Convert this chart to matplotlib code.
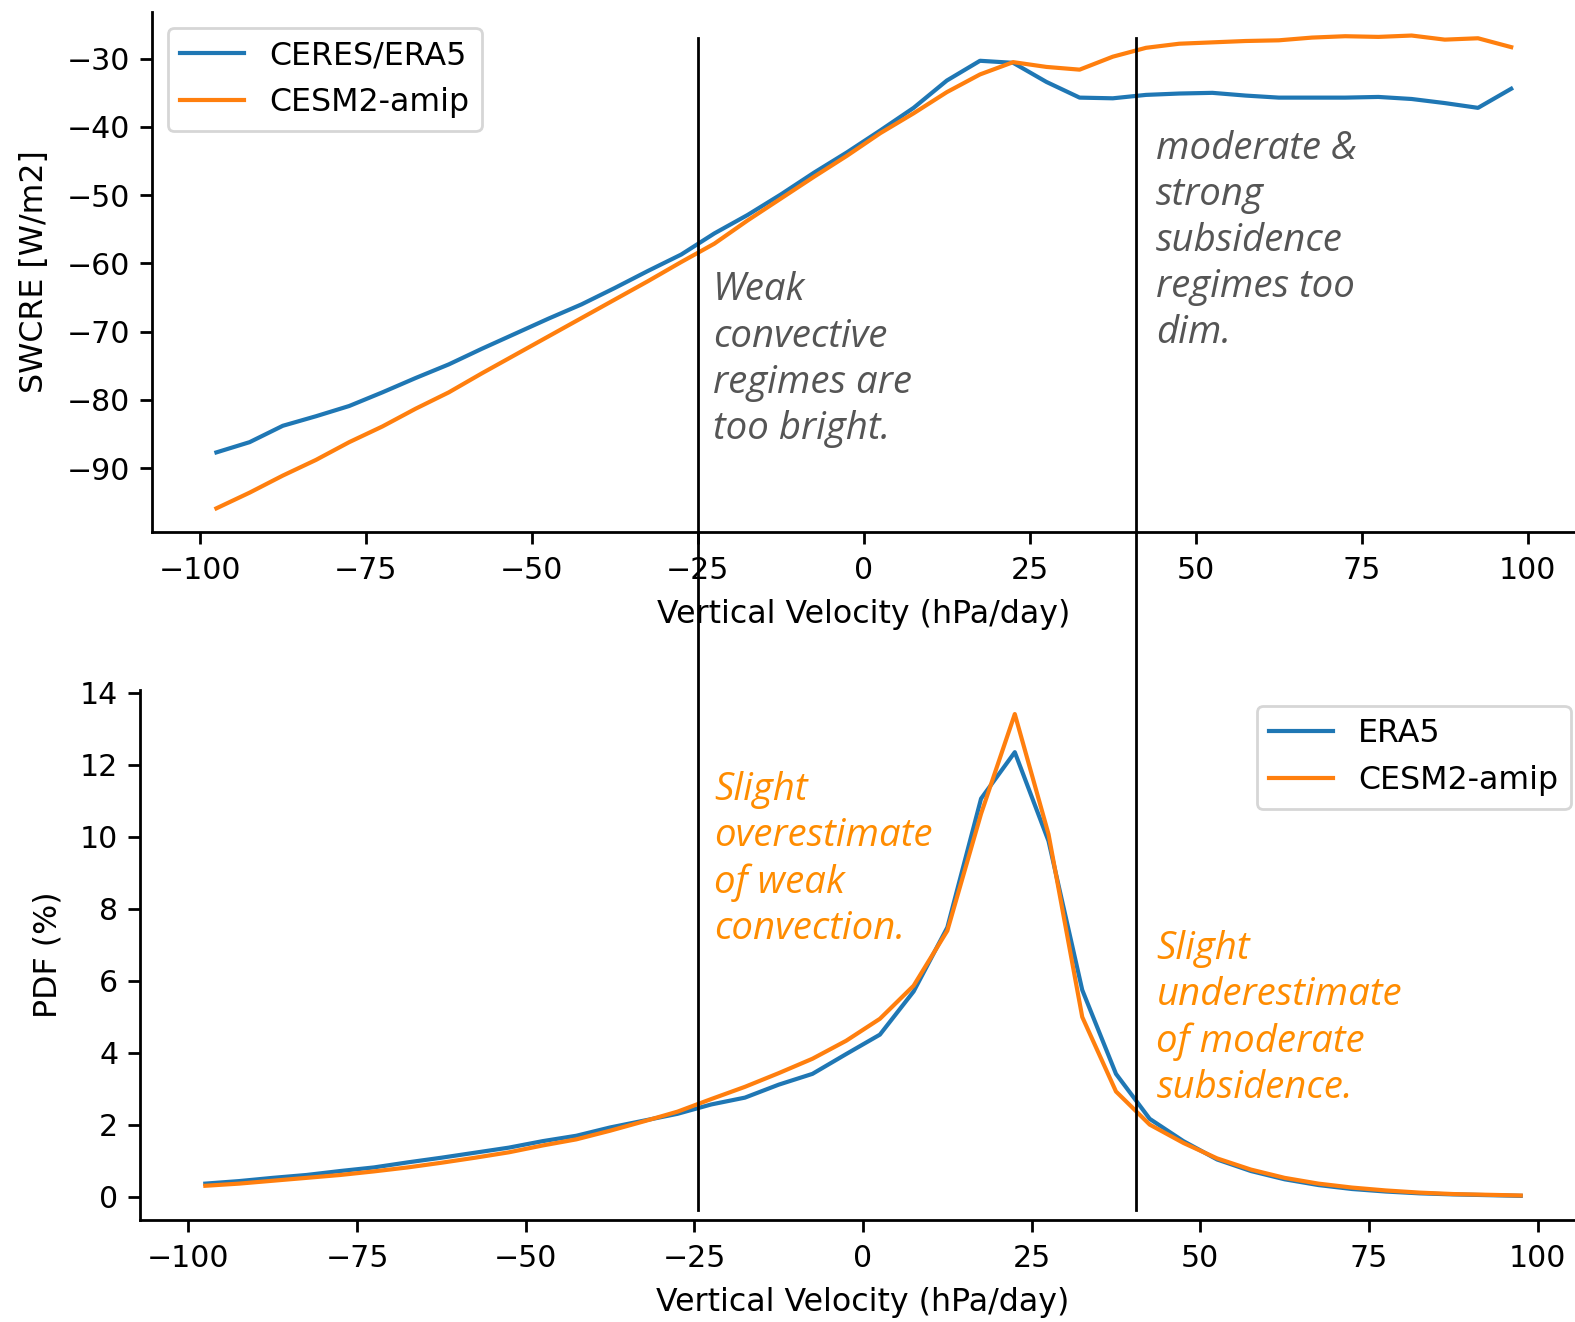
import numpy as np
import matplotlib
matplotlib.use("Agg")
import matplotlib.pyplot as plt
from matplotlib import transforms
from matplotlib.lines import Line2D

# ---------------- data ----------------
omega = np.arange(-97.5, 100, 5.0)  # vertical velocity bin centres (hPa/day)

swcre_obs = [-87.7, -86.2, -83.8, -82.4, -80.9, -78.9, -76.8, -74.8, -72.5, -70.3,
             -68.1, -66.0, -63.6, -61.1, -58.7, -55.6, -52.9, -49.9, -46.7, -43.7,
             -40.5, -37.2, -33.2, -30.3, -30.6, -33.4, -35.7, -35.8, -35.3, -35.1,
             -35.0, -35.4, -35.7, -35.7, -35.7, -35.6, -35.9, -36.5, -37.2, -34.4]
swcre_mod = [-95.9, -93.6, -91.1, -88.8, -86.2, -83.9, -81.3, -78.9, -76.1, -73.4,
             -70.7, -68.0, -65.3, -62.6, -59.8, -57.1, -53.7, -50.5, -47.3, -44.2,
             -40.9, -38.0, -34.9, -32.3, -30.5, -31.2, -31.6, -29.7, -28.4, -27.8,
             -27.6, -27.4, -27.3, -26.9, -26.7, -26.8, -26.6, -27.2, -27.0, -28.3]

pdf_obs = [0.36, 0.43, 0.52, 0.60, 0.71, 0.81, 0.95, 1.08, 1.22, 1.36,
           1.54, 1.69, 1.92, 2.11, 2.30, 2.56, 2.75, 3.11, 3.41, 3.96,
           4.50, 5.70, 7.48, 11.06, 12.35, 9.88, 5.74, 3.41, 2.16, 1.54,
           1.03, 0.71, 0.48, 0.32, 0.21, 0.14, 0.09, 0.06, 0.04, 0.02]
pdf_mod = [0.30, 0.36, 0.44, 0.52, 0.60, 0.70, 0.81, 0.94, 1.08, 1.23,
           1.42, 1.59, 1.83, 2.09, 2.36, 2.71, 3.05, 3.43, 3.83, 4.33,
           4.94, 5.86, 7.39, 10.64, 13.41, 10.07, 4.99, 2.92, 2.00, 1.49,
           1.06, 0.75, 0.52, 0.36, 0.25, 0.17, 0.11, 0.07, 0.05, 0.03]

regime_bounds = [-25, 41]

top_labels = ["CERES/ERA5", "CESM2-amip"]
bottom_labels = ["ERA5", "CESM2-amip"]
xlabel = "Vertical Velocity (hPa/day)"
note_top_left = "Weak\nconvective\nregimes are\ntoo bright."
note_top_right = "moderate &\nstrong\nsubsidence\nregimes too\ndim."
note_bot_left = "Slight\noverestimate\nof weak\nconvection."
note_bot_right = "Slight\nunderestimate\nof moderate\nsubsidence."

# ---------------- figure ----------------
plt.rcParams["font.family"] = ["DejaVu Sans"]
fig = plt.figure(figsize=(7.875, 6.61), dpi=200)

ax1 = fig.add_axes([0.0963, 0.5976, 0.9043, 0.3934])
ax2 = fig.add_axes([0.0886, 0.0772, 0.9187, 0.4009])

blue = "#1f77b4"
orange = "#ff7f0e"

ax1.plot(omega, swcre_obs, color=blue, lw=1.5, label=top_labels[0])
ax1.plot(omega, swcre_mod, color=orange, lw=1.5, label=top_labels[1])
ax2.plot(omega, pdf_obs, color=blue, lw=1.5, label=bottom_labels[0])
ax2.plot(omega, pdf_mod, color=orange, lw=1.5, label=bottom_labels[1])

for ax in (ax1, ax2):
    ax.spines["top"].set_visible(False)
    ax.spines["right"].set_visible(False)
    for s in ("left", "bottom"):
        ax.spines[s].set_linewidth(1.0)
    ax.tick_params(labelsize=10.8, length=4.2, width=1.0)
    ax.tick_params(axis="x", pad=4.5)
    ax.set_xlabel(xlabel, fontsize=11.4, labelpad=5)
    ax.set_xticks([-100, -75, -50, -25, 0, 25, 50, 75, 100])

ax1.set_yticks([-90, -80, -70, -60, -50, -40, -30])
ax1.set_ylabel("SWCRE [W/m2]", fontsize=11.4, labelpad=6)
ax2.set_yticks([0, 2, 4, 6, 8, 10, 12, 14])
ax2.set_ylabel("PDF (%)", fontsize=11.4, labelpad=6)

ax1.legend(loc="upper left", fontsize=11.4)
ax2.legend(loc="upper right", fontsize=11.4)

# annotations
afont = dict(family=["Open Sans", "DejaVu Sans"], style="italic", fontsize=13.8,
             ha="left", va="center", linespacing=1.28)
ax1.text(-22.7, -74.1, note_top_left, color="#555555", **afont)
ax1.text(44.0, -56.7, note_top_right, color="#555555", **afont)
ax2.text(-22.1, 9.36, note_bot_left, color="darkorange", **afont)
ax2.text(43.5, 4.96, note_bot_right, color="darkorange", **afont)

# regime boundary lines spanning both panels
trans = transforms.blended_transform_factory(ax1.transData, fig.transFigure)
for xb in regime_bounds:
    fig.add_artist(Line2D([xb, xb], [0.0847, 0.9711], transform=trans,
                          color="black", lw=1.0))

fig.savefig("out.png", dpi=200)
